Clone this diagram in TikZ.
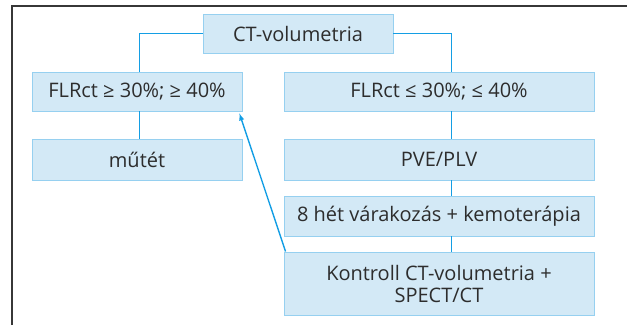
\documentclass[tikz,border=0pt]{standalone}
\usepackage{fontspec}
\setmainfont{Open Sans}
\usepackage{xcolor}
\usetikzlibrary{arrows}
\usetikzlibrary{calc}

\definecolor{boxfill}{RGB}{211,233,246}
\definecolor{boxline}{RGB}{150,208,240}
\definecolor{linkblue}{RGB}{20,158,228}
\definecolor{txtgray}{RGB}{45,45,45}
\definecolor{framegray}{RGB}{55,55,55}

\tikzset{
  flowbox/.style = {draw=boxline, fill=boxfill, line width=0.9pt, inner sep=0pt,
                    text=txtgray, align=center, font=\fontsize{20}{22}\selectfont},
  treeline/.style = {draw=linkblue, line width=1.4pt}
}

\begin{document}
\begin{tikzpicture}[x=1pt,y=-1pt]
  \useasboundingbox (0,0) rectangle (627,325);
  % frame
  \draw[framegray, line width=1.2pt] (12,325) -- (12,6) -- (627,6);

  % boxes
  \node[flowbox, minimum width=190pt, minimum height=39pt] (ctvol)    at (298,33.5)  {CT-volumetria};
  \node[flowbox, minimum width=210pt, minimum height=39pt] (flrhi)    at (137,91.5)  {FLRct ≥ 30\%; ≥ 40\%};
  \node[flowbox, minimum width=310pt, minimum height=39pt] (flrlo)    at (439,91.5)  {FLRct ≤ 30\%; ≤ 40\%};
  \node[flowbox, minimum width=210pt, minimum height=41pt] (mutet)    at (137,159.5) {műtét};
  \node[flowbox, minimum width=310pt, minimum height=41pt] (pveplv)   at (439,159.5) {PVE/PLV};
  \node[flowbox, minimum width=310pt, minimum height=40pt] (varakoz)  at (439,216)   {8 hét várakozás + kemoterápia};
  \node[flowbox, minimum width=310pt, minimum height=63pt] (kontroll) at (439,283.5) {Kontroll CT-volumetria +\\SPECT/CT};

  % connectors
  \draw[treeline] (ctvol.west) -| ([xshift=2.5pt]flrhi.north);
  \draw[treeline] (ctvol.east) -| ([xshift=12.5pt]flrlo.north);
  \draw[treeline] ([xshift=2.5pt]flrhi.south) -- ([xshift=2.5pt]mutet.north);
  \draw[treeline] ([xshift=12.5pt]flrlo.south) -- ([xshift=12.5pt]pveplv.north);
  \draw[treeline] ([xshift=12.5pt]pveplv.south) -- ([xshift=12.5pt]varakoz.north);
  \draw[treeline] ([xshift=12.5pt]varakoz.south) -- ([xshift=12.5pt]kontroll.north);
  \draw[treeline,-latex] ([xshift=2pt]kontroll.north west) -- ([shift={(-3pt,-2pt)}]flrhi.south east);
\end{tikzpicture}
\end{document}
